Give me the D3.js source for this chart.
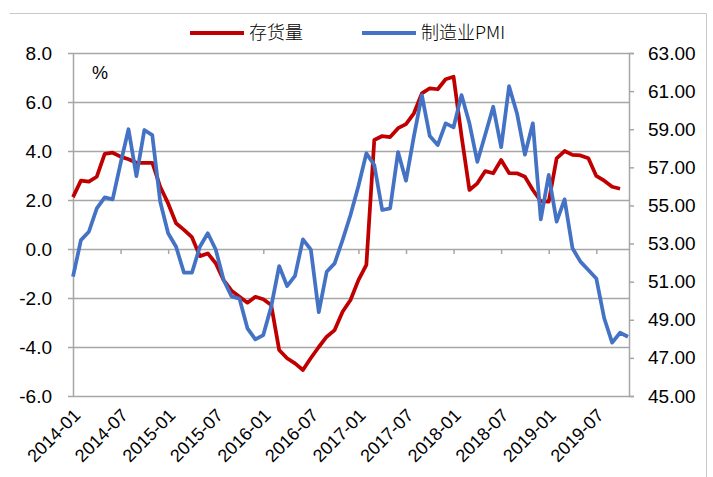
<!DOCTYPE html>
<html>
<head>
<meta charset="utf-8">
<script src="https://cdn.jsdelivr.net/npm/d3@7"></script>
<style>
  body { margin: 0; background: #fff; }
  svg text { font-family: 'Liberation Sans', Arial, sans-serif; fill: #000; }
</style>
</head>
<body>
<div id="chart"></div>
<script>
// monthly categories 2014-01 .. 2019-11
const months = d3.timeMonths(new Date(2014, 0, 1), new Date(2019, 11, 1)).map(d3.timeFormat('%Y-%m'));

const inventory = [
  2.12, 2.79, 2.75, 2.95, 3.88, 3.93, 3.77, 3.66, 3.52, 3.52, 3.52, 2.54,
  1.86, 1.05, 0.78, 0.48, -0.29, -0.18, -0.58, -1.27, -1.70, -1.95, -2.19, -1.95,
  -2.05, -2.29, -4.12, -4.46, -4.67, -4.94, -4.45, -4.00, -3.58, -3.31, -2.56, -2.08,
  -1.27, -0.65, 4.45, 4.61, 4.57, 4.93, 5.10, 5.54, 6.35, 6.56, 6.52, 6.93,
  7.03, 4.62, 2.41, 2.68, 3.18, 3.09, 3.63, 3.10, 3.09, 2.95, 2.41, 1.95,
  1.93, 3.70, 4.00, 3.84, 3.82, 3.70, 2.98, 2.79, 2.54, 2.46,
];

const pmi = [
  51.26, 53.18, 53.62, 54.85, 55.42, 55.32, 57.21, 59.00, 56.54, 58.96, 58.69, 55.19,
  53.54, 52.83, 51.47, 51.47, 52.83, 53.54, 52.69, 51.09, 50.23, 50.10, 48.55, 47.97,
  48.20, 49.69, 51.82, 50.77, 51.30, 53.22, 52.68, 49.40, 51.52, 51.96, 53.18, 54.50,
  56.02, 57.73, 57.12, 54.76, 54.85, 57.80, 56.30, 58.64, 60.79, 58.64, 58.17, 59.31,
  59.10, 60.79, 59.31, 57.29, 58.72, 60.18, 58.06, 61.26, 59.83, 57.67, 59.31, 54.27,
  56.60, 54.15, 55.32, 52.75, 52.05, 51.61, 51.17, 49.08, 47.80, 48.32, 48.11,
];

const leftTicks = [-6, -4, -2, 0, 2, 4, 6, 8];
const rightTicks = [45, 47, 49, 51, 53, 55, 57, 59, 61, 63];
const xTickLabels = ['2014-01', '2014-07', '2015-01', '2015-07', '2016-01', '2016-07',
  '2017-01', '2017-07', '2018-01', '2018-07', '2019-01', '2019-07'];

const seriesNames = ['存货量', '制造业PMI'];
const colors = ['#C00000', '#4472C4'];

const W = 713, H = 477;
const plot = {left: 73, right: 629, top: 53, bottom: 396};

const svg = d3.select('#chart').append('svg')
  .attr('width', W)
  .attr('height', H);

// outer frame (top + right edges visible)
svg.append('path')
  .attr('d', `M9.5,13.5H706.5V${H}`)
  .attr('fill', 'none')
  .attr('stroke', '#c8c8c8')
  .attr('stroke-width', 1);

const x = d3.scalePoint()
  .domain(months)
  .range([plot.left, plot.right - 1]);

const yL = d3.scaleLinear()
  .domain([-6, 8])
  .range([plot.bottom, plot.top]);

const yR = d3.scaleLinear()
  .domain([45, 63])
  .range([plot.bottom, plot.top]);

// gridlines
svg.append('g')
  .attr('transform', `translate(${plot.left - 5},0)`)
  .call(d3.axisLeft(yL).tickValues(leftTicks).tickSize(-(plot.right - plot.left + 5)).tickFormat(''))
  .call(g => g.select('.domain').remove())
  .call(g => g.selectAll('.tick line').attr('stroke', '#a6a6a6').attr('stroke-width', 1.5));

// left axis
svg.append('g')
  .attr('transform', `translate(${plot.left},0)`)
  .call(d3.axisLeft(yL).tickValues(leftTicks).tickSize(0).tickPadding(21).tickFormat(d => d.toFixed(1)))
  .call(g => g.select('.domain').attr('stroke', '#a6a6a6').attr('stroke-width', 1.5))
  .call(g => g.selectAll('.tick text').style('font-size', '19px'));

// right axis
svg.append('g')
  .attr('transform', `translate(${plot.right},0)`)
  .call(d3.axisRight(yR).tickValues(rightTicks).tickSize(5).tickPadding(14).tickFormat(d => d.toFixed(2)))
  .call(g => g.select('.domain').attr('stroke', '#a6a6a6').attr('stroke-width', 1.5))
  .call(g => g.selectAll('.tick line').attr('stroke', '#a6a6a6').attr('stroke-width', 1.5))
  .call(g => g.selectAll('.tick text').style('font-size', '19px'));

// category axis sits on the zero line, labels pushed to the bottom
svg.append('g')
  .attr('transform', `translate(0,${yL(0)})`)
  .call(d3.axisBottom(x).tickValues(xTickLabels).tickSize(5).tickFormat(''))
  .call(g => g.select('.domain').remove())
  .call(g => g.selectAll('.tick line').attr('stroke', '#a6a6a6').attr('stroke-width', 1.5));

svg.append('g')
  .selectAll('text')
  .data(xTickLabels)
  .enter().append('text')
    .attr('transform', d => `translate(${x(d) + 4},${plot.bottom + 16}) rotate(-45)`)
    .style('font-size', '18px')
    .style('text-anchor', 'end')
    .attr('dy', '0.35em')
    .text(d => d);

// lines
const lineL = d3.line()
  .x((d, i) => x(months[i]))
  .y(d => yL(d));

const lineR = d3.line()
  .x((d, i) => x(months[i]))
  .y(d => yR(d));

svg.append('path')
  .datum(inventory)
  .attr('d', lineL)
  .attr('fill', 'none')
  .attr('stroke', colors[0])
  .attr('stroke-width', 3.75)
  .attr('stroke-linejoin', 'round');

svg.append('path')
  .datum(pmi)
  .attr('d', lineR)
  .attr('fill', 'none')
  .attr('stroke', colors[1])
  .attr('stroke-width', 3.75)
  .attr('stroke-linejoin', 'round');

// unit label
svg.append('text')
  .attr('x', 92)
  .attr('y', 79)
  .style('font-size', '18px')
  .text('%');

// legend
const legendX = [190, 362];
const legend = svg.selectAll('.legend')
  .data(seriesNames)
  .enter().append('g')
    .attr('class', 'legend')
    .attr('transform', (d, i) => `translate(${legendX[i]},33)`);

legend.append('line')
  .attr('x1', 0).attr('x2', 54)
  .attr('stroke', (d, i) => colors[i])
  .attr('stroke-width', 4);

legend.append('text')
  .attr('x', 59)
  .attr('dy', '0.35em')
  .style('font-family', "'Noto Sans CJK SC', sans-serif")
  .style('font-size', '18px')
  .style('font-weight', 300)
  .text(d => d);
</script>
</body>
</html>
